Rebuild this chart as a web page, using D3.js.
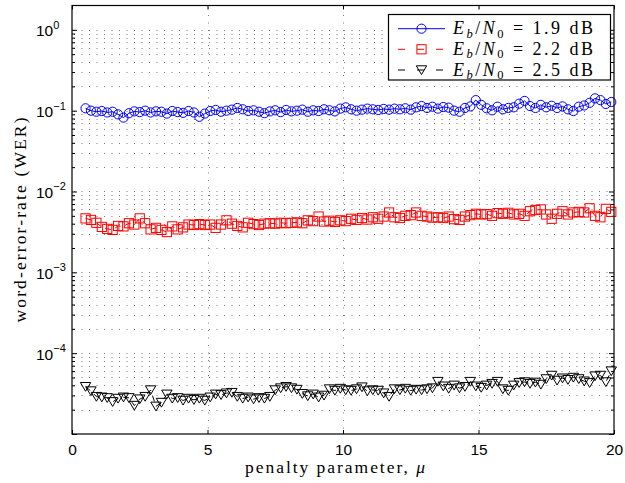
<!DOCTYPE html>
<html><head><meta charset="utf-8">
<script src="https://cdn.jsdelivr.net/npm/d3@7"></script>
<style>body{margin:0;background:#fff}svg{display:block}</style>
</head><body>
<svg id="c" width="625" height="483"></svg>
<script>
const mu = [0.5,0.7,0.9,1.1,1.3,1.5,1.7,1.9,2.1,2.3,2.5,2.7,2.9,3.1,3.3,3.5,3.7,3.9,4.1,4.3,4.5,4.7,4.9,5.1,5.3,5.5,5.7,5.9,6.1,6.3,6.5,6.7,6.9,7.1,7.3,7.5,7.7,7.9,8.1,8.3,8.5,8.7,8.9,9.1,9.3,9.5,9.7,9.9,10.1,10.3,10.5,10.7,10.9,11.1,11.3,11.5,11.7,11.9,12.1,12.3,12.5,12.7,12.9,13.1,13.3,13.5,13.7,13.9,14.1,14.3,14.5,14.7,14.9,15.1,15.3,15.5,15.7,15.9,16.1,16.3,16.5,16.7,16.9,17.1,17.3,17.5,17.7,17.9,18.1,18.3,18.5,18.7,18.9,19.1,19.3,19.5,19.7,19.9];

const werEb19 = [0.107,0.100,0.097,0.099,0.095,0.097,0.090,0.082,0.093,0.098,0.096,0.100,0.095,0.098,0.097,0.092,0.099,0.096,0.094,0.099,0.095,0.084,0.092,0.099,0.102,0.097,0.100,0.103,0.108,0.104,0.099,0.101,0.097,0.093,0.098,0.101,0.096,0.102,0.098,0.100,0.103,0.097,0.101,0.099,0.104,0.101,0.098,0.106,0.110,0.104,0.100,0.103,0.106,0.104,0.102,0.105,0.103,0.106,0.104,0.107,0.103,0.110,0.114,0.108,0.112,0.106,0.111,0.109,0.100,0.097,0.108,0.113,0.135,0.118,0.107,0.101,0.112,0.104,0.108,0.110,0.122,0.132,0.114,0.108,0.118,0.110,0.115,0.108,0.113,0.104,0.099,0.112,0.116,0.125,0.142,0.135,0.121,0.128];

const werEb22 = [4.65e-3,4.45e-3,4.1e-3,3.65e-3,3.45e-3,3.35e-3,3.75e-3,3.7e-3,4.05e-3,3.9e-3,4.65e-3,4.05e-3,3.4e-3,3.55e-3,3.35e-3,3.15e-3,3.7e-3,3.4e-3,3.6e-3,3.9e-3,3.85e-3,3.95e-3,3.85e-3,3.9e-3,3.55e-3,3.9e-3,4.4e-3,4.0e-3,3.75e-3,3.6e-3,4.1e-3,3.95e-3,3.85e-3,4.0e-3,4.05e-3,4.0e-3,4.1e-3,4.05e-3,4.1e-3,4.15e-3,4.05e-3,4.4e-3,4.3e-3,4.9e-3,4.25e-3,4.35e-3,4.2e-3,4.4e-3,4.3e-3,4.6e-3,4.45e-3,4.7e-3,4.5e-3,4.8e-3,4.6e-3,4.9e-3,5.5e-3,4.8e-3,4.7e-3,5.0e-3,5.1e-3,5.5e-3,5.0e-3,4.9e-3,4.75e-3,4.8e-3,4.7e-3,4.9e-3,4.55e-3,4.45e-3,4.9e-3,5.1e-3,5.3e-3,5.2e-3,5.25e-3,5.0e-3,5.4e-3,5.3e-3,5.45e-3,5.2e-3,5.3e-3,5.0e-3,5.7e-3,5.9e-3,6.0e-3,5.2e-3,4.6e-3,5.3e-3,5.7e-3,5.2e-3,5.5e-3,5.6e-3,5.5e-3,6.2e-3,5.0e-3,4.8e-3,6.1e-3,5.6e-3];

const werEb25 = [3.85e-5,3.4e-5,2.9e-5,2.85e-5,2.8e-5,2.5e-5,2.75e-5,2.85e-5,2.8e-5,2.25e-5,2.7e-5,2.9e-5,3.5e-5,2.2e-5,2.45e-5,3.1e-5,2.75e-5,2.8e-5,2.6e-5,2.75e-5,2.65e-5,2.75e-5,2.6e-5,2.85e-5,3.1e-5,3.05e-5,3.2e-5,3.25e-5,2.9e-5,2.75e-5,2.85e-5,2.7e-5,2.8e-5,2.75e-5,2.9e-5,3.5e-5,3.7e-5,3.85e-5,3.7e-5,3.55e-5,3.15e-5,2.95e-5,3.1e-5,2.85e-5,3.0e-5,3.6e-5,3.45e-5,3.65e-5,3.5e-5,3.45e-5,3.6e-5,3.8e-5,3.4e-5,3.5e-5,3.45e-5,3.2e-5,2.9e-5,3.6e-5,3.5e-5,3.65e-5,3.45e-5,3.55e-5,3.5e-5,3.6e-5,3.7e-5,4.45e-5,3.9e-5,3.65e-5,4.0e-5,3.7e-5,3.85e-5,4.45e-5,3.9e-5,3.75e-5,4.0e-5,4.2e-5,4.45e-5,3.6e-5,3.45e-5,4.0e-5,4.3e-5,4.4e-5,4.2e-5,4.35e-5,4.1e-5,4.8e-5,5.3e-5,4.6e-5,4.9e-5,4.7e-5,5.0e-5,4.8e-5,4.5e-5,4.3e-5,5.2e-5,5.3e-5,4.4e-5,6.0e-5];

const xTicks = [0, 5, 10, 15, 20];
const yMajorExps = [0, -1, -2, -3, -4];
const seriesNames = ["1.9", "2.2", "2.5"];

const svg = d3.select("#c");
const L = 72, R = 614, T = 5.5, B = 434;
const x = d3.scaleLinear().domain([0, 20]).range([L, R]);
const y = d3.scaleLog().domain([1e-5, 2]).range([B, T]);

svg.append("rect").attr("width", 625).attr("height", 483).attr("fill", "#fff");

// grid
const minorVals = [];
for (let e = -5; e <= 0; e++) for (let m = 1; m <= 9; m++) {
  const v = m * Math.pow(10, e);
  if (v > 1.0001e-5 && v < 1.99) minorVals.push(v);
}
const grid = svg.append("g").attr("stroke", "#7a7a7a").attr("stroke-width", 1).attr("stroke-dasharray", "1,6.5");
grid.selectAll("line.h").data(minorVals).join("line")
  .attr("x1", L + 2).attr("x2", R)
  .attr("y1", d => Math.round(y(d)) + 0.5).attr("y2", d => Math.round(y(d)) + 0.5);
grid.selectAll("line.v").data([5, 10, 15]).join("line")
  .attr("x1", d => Math.round(x(d)) + 0.5).attr("x2", d => Math.round(x(d)) + 0.5)
  .attr("y1", T + 2).attr("y2", B);

// axes ticks (inward)
const majorVals = [1e-5, 1e-4, 1e-3, 1e-2, 1e-1, 1];
const minorOnly = minorVals.filter(v => !majorVals.some(m => Math.abs(m - v) / m < 1e-6));
function styleAxis(g) { g.select(".domain").remove(); g.selectAll("line").attr("stroke", "#000"); }
svg.append("g").attr("transform", `translate(${L},0)`)
  .call(d3.axisLeft(y).tickValues(majorVals).tickSize(-5).tickSizeOuter(0).tickFormat("")).call(styleAxis);
svg.append("g").attr("transform", `translate(${L},0)`)
  .call(d3.axisLeft(y).tickValues(minorOnly).tickSize(-3).tickSizeOuter(0).tickFormat("")).call(styleAxis);
svg.append("g").attr("transform", `translate(${R},0)`)
  .call(d3.axisRight(y).tickValues(majorVals).tickSize(-5).tickSizeOuter(0).tickFormat("")).call(styleAxis);
svg.append("g").attr("transform", `translate(${R},0)`)
  .call(d3.axisRight(y).tickValues(minorOnly).tickSize(-3).tickSizeOuter(0).tickFormat("")).call(styleAxis);
svg.append("g").attr("transform", `translate(0,${T})`)
  .call(d3.axisTop(x).tickValues(xTicks).tickSize(-4).tickSizeOuter(0).tickFormat("")).call(styleAxis);
const xb = svg.append("g").attr("transform", `translate(0,${B})`)
  .call(d3.axisBottom(x).tickValues(xTicks).tickSize(-4).tickSizeOuter(0).tickPadding(10).tickFormat(d3.format("d")));
xb.call(styleAxis);
xb.selectAll("text").attr("font-family", "Liberation Sans, Arial, sans-serif").attr("font-size", 15.5).attr("fill", "#000");

// y tick labels 10^n
const yl = svg.append("g").attr("font-family", "Liberation Sans, Arial, sans-serif").attr("fill", "#000");
yMajorExps.forEach(e => {
  const t = yl.append("text").attr("x", 36).attr("y", y(Math.pow(10, e)) + 6.5).attr("font-size", 15.5);
  t.append("tspan").text("10");
  t.append("tspan").attr("font-size", 11).attr("dy", -7.5).text(e === 0 ? "0" : "\u2212" + Math.abs(e));
});

// series
const series = [
  {vals: werEb19, color: "#0000ff", dash: null, marker: "circle"},
  {vals: werEb22, color: "#ff0000", dash: "6,5", marker: "square"},
  {vals: werEb25, color: "#000000", dash: "6,5", marker: "tri"}
];
const line = d3.line().x(d => x(d[0])).y(d => y(d[1]));
function drawMarker(g, kind, cx, cy, color) {
  if (kind === "circle") g.append("circle").attr("cx", cx).attr("cy", cy).attr("r", 4.6)
    .attr("fill", "none").attr("stroke", color).attr("stroke-width", 1);
  else if (kind === "square") g.append("rect").attr("x", cx - 4.6).attr("y", cy - 4.6).attr("width", 9.2).attr("height", 9.2)
    .attr("fill", "none").attr("stroke", color).attr("stroke-width", 1);
  else g.append("path").attr("d", `M${cx - 5.2},${cy - 4.2}L${cx + 5.2},${cy - 4.2}L${cx},${cy + 4.6}Z`)
    .attr("fill", "none").attr("stroke", color).attr("stroke-width", 1);
}
series.forEach(s => {
  const pts = mu.map((m, i) => [m, s.vals[i]]);
  const g = svg.append("g");
  g.append("path").attr("d", line(pts)).attr("fill", "none").attr("stroke", s.color)
    .attr("stroke-width", 1).attr("stroke-dasharray", s.dash);
  pts.forEach(p => drawMarker(g, s.marker, x(p[0]), y(p[1]), s.color));
});

// frame
svg.append("rect").attr("x", L).attr("y", T).attr("width", R - L).attr("height", B - T)
  .attr("fill", "none").attr("stroke", "#000").attr("stroke-width", 1.2);

// legend
const lg = svg.append("g");
lg.append("rect").attr("x", 388.5).attr("y", 14.5).attr("width", 222).attr("height", 65.5)
  .attr("fill", "#fff").attr("stroke", "#000").attr("stroke-width", 1.2);
const rowsY = [28.7, 49.3, 70];
series.forEach((s, i) => {
  const ry = rowsY[i];
  lg.append("line").attr("x1", 398).attr("x2", 445).attr("y1", ry).attr("y2", ry)
    .attr("stroke", s.color).attr("stroke-width", 1).attr("stroke-dasharray", s.dash ? "7,12" : null);
  drawMarker(lg, s.marker, 421.5, ry, s.color);
  const t = lg.append("text").attr("x", 453).attr("y", ry + 5.5)
    .attr("font-family", "Liberation Serif, Times New Roman, serif").attr("font-size", 18).attr("fill", "#000")
    .attr("textLength", 140).attr("lengthAdjust", "spacing");
  t.append("tspan").attr("font-style", "italic").text("E");
  t.append("tspan").attr("font-style", "italic").attr("font-size", 12.5).attr("dy", 3.5).text("b");
  t.append("tspan").attr("dy", -3.5).text("/");
  t.append("tspan").attr("font-style", "italic").text("N");
  t.append("tspan").attr("font-size", 12.5).attr("dy", 3.5).text("0");
  t.append("tspan").attr("dy", -3.5).text(" = " + seriesNames[i] + " dB");
});

// axis titles
const xt = svg.append("text").attr("x", 245).attr("y", 473)
  .attr("font-family", "Liberation Serif, Times New Roman, serif").attr("font-size", 17.5).attr("fill", "#000")
  .attr("textLength", 180).attr("lengthAdjust", "spacing");
xt.append("tspan").text("penalty parameter, ");
xt.append("tspan").attr("font-style", "italic").text("\u03bc");

svg.append("text").attr("transform", "rotate(-90)").attr("x", -220).attr("y", 25.5)
  .attr("text-anchor", "middle")
  .attr("font-family", "Liberation Serif, Times New Roman, serif").attr("font-size", 17.5).attr("fill", "#000")
  .attr("textLength", 205).attr("lengthAdjust", "spacing")
  .text("word-error-rate (WER)");
</script>
</body></html>
